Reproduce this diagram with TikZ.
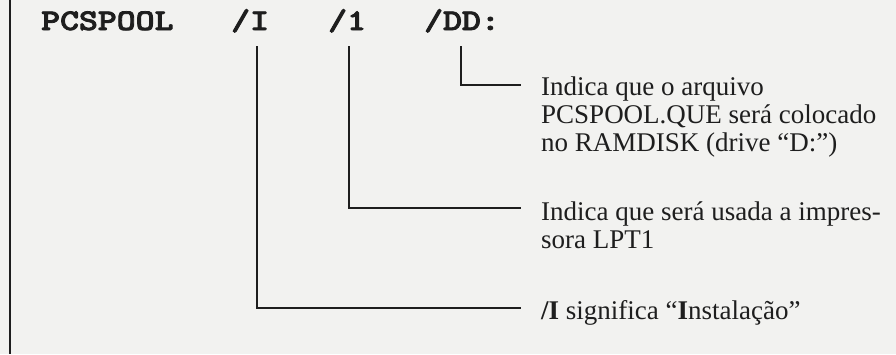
\documentclass[tikz,border=0pt]{standalone}
\usepackage{fontspec}
\setmainfont{Liberation Serif}
\newfontfamily\codefont{lmmonolt10-bold}[Extension=.otf,FakeBold=2.5]
\definecolor{paper}{HTML}{F2F2F0}
\definecolor{ink}{HTML}{1E1E1E}
\newcommand{\codetxt}[1]{\scalebox{1.2}[1]{#1}}
\begin{document}
\begin{tikzpicture}[x=1pt,y=-1pt,
  code/.style={anchor=base west,inner sep=0pt,text=ink,font=\codefont\fontsize{30}{30}\selectfont},
  desc/.style={anchor=base west,inner sep=0pt,text=ink,font=\fontsize{27}{28}\selectfont},
  conn/.style={draw=ink,line width=2pt,line join=miter}]
\fill[paper] (0,0) rectangle (896,354);
\useasboundingbox (0,0) rectangle (896,354);
% left border rule
\coordinate (bTop) at (10,0);
\coordinate (bBot) at (10,354);
\draw[ink,line width=2.6pt] (bTop) -- (bBot);
% command line
\node[code] (cmd) at (41,30) {\codetxt{PCSPOOL}};
\node[code] (pI) at (231,30) {\codetxt{/I}};
\node[code] (pOne) at (328,30) {\codetxt{/1}};
\node[code] (pDD) at (424,30) {\codetxt{/DD:}};
% descriptions
\node[desc] (dA1) at (541,95) {Indica que o arquivo};
\node[desc] (dA2) at (541,123) {PCSPOOL.QUE será colocado};
\node[desc] (dA3) at (541,151) {no RAMDISK (drive “D:”)};
\node[desc] (dB1) at (541,220) {Indica que será usada a impres-};
\node[desc] (dB2) at (541,248) {sora LPT1};
\node[desc] (dC1) at (541,319) {\textbf{/I} significa “\textbf{I}nstalação”};
% connector ends
\coordinate (ddTop) at (461,46);
\coordinate (ddEnd) at (521,85);
\coordinate (oneTop) at (349,46);
\coordinate (oneEnd) at (521,208);
\coordinate (iTop) at (257,46);
\coordinate (iEnd) at (521,308);
\draw[conn] (ddTop) |- (ddEnd);
\draw[conn] (oneTop) |- (oneEnd);
\draw[conn] (iTop) |- (iEnd);
\end{tikzpicture}
\end{document}
